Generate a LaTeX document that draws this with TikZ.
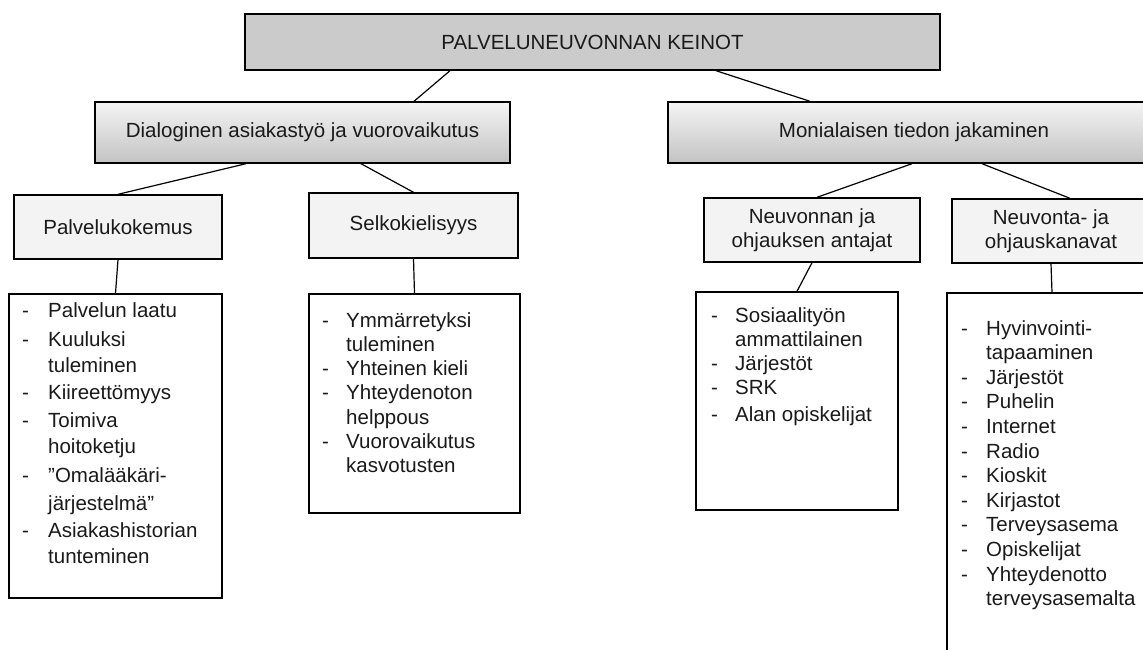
\documentclass[tikz,border=0pt]{standalone}
\usepackage{fontspec}
\setmainfont{Liberation Sans}
\usetikzlibrary{calc}
\definecolor{topfill}{HTML}{CBCBCB}
\definecolor{gtop}{HTML}{F4F4F4}
\definecolor{gbot}{HTML}{C3C3C3}
\definecolor{lfill}{HTML}{F3F3F3}
\definecolor{ink}{HTML}{1A1A1A}
\begin{document}
\begin{tikzpicture}[x=1pt,y=-1pt,
  box/.style={draw=black, line width=1.4pt, inner sep=0pt, font=\fontsize{20.5}{24}\selectfont, text=ink},
  topbox/.style={box, fill=topfill},
  midbox/.style={box, top color=gtop, bottom color=gbot},
  subbox/.style={box, fill=lfill, align=center},
  listbox/.style={draw=black, line width=1.4pt, fill=white, inner sep=0pt},
  conn/.style={draw=black, line width=1.2pt},
  itemtxt/.style={anchor=base west, inner sep=0pt, font=\fontsize{20.5}{24}\selectfont, text=ink},
]
\useasboundingbox (0,0) rectangle (1143,649);
\clip (0,0) rectangle (1143,649);
\fill[white] (0,0) rectangle (1143,649);

% boxes
\node[topbox, minimum width=695pt, minimum height=56pt] (top) at (592.5,42) {PALVELUNEUVONNAN KEINOT};
\node[midbox, minimum width=415pt, minimum height=61pt] (dial) at (302.5,132.5) {Dialoginen asiakastyö ja vuorovaikutus};
\node[midbox, minimum width=492pt, minimum height=61pt] (mon) at (914,132.5) {Monialaisen tiedon jakaminen};
\node[subbox, minimum width=208pt, minimum height=64pt] (palv) at (118,227) {Palvelukokemus};
\node[subbox, minimum width=209pt, minimum height=65pt] (selk) at (413.5,225.5) {Selkokielisyys};
\node[subbox, minimum width=216pt, minimum height=64pt] (neu1) at (812,230) {Neuvonnan ja\\ohjauksen antajat};
\node[subbox, minimum width=198pt, minimum height=64pt] (neu2) at (1051,231) {Neuvonta- ja\\ohjauskanavat};

\node[listbox, minimum width=213pt, minimum height=304pt] (la) at (115.5,446) {};
\node[listbox, minimum width=211pt, minimum height=219pt] (lb) at (414.5,403.5) {};
\node[listbox, minimum width=202pt, minimum height=218pt] (lc) at (797,401) {};
\node[listbox, minimum width=210pt, minimum height=387pt] (ld) at (1052,486.5) {};

% connectors
\draw[conn] ($(top.south)+(-142.5,0)$) -- ($(dial.north)+(111.5,0)$);
\draw[conn] ($(top.south)+(123.5,0)$) -- ($(mon.north)+(-104,0)$);
\draw[conn] ($(dial.south)+(-56.5,0)$) -- (palv.north);
\draw[conn] ($(dial.south)+(58.5,0)$) -- (selk.north);
\draw[conn] ($(mon.south)+(-2,0)$) -- ($(neu1.north)+(5,0)$);
\draw[conn] ($(mon.south)+(68,0)$) -- ($(neu2.north)+(19,0)$);
\draw[conn] (palv.south) -- (la.north);
\draw[conn] (selk.south) -- (lb.north);
\draw[conn] (neu1.south) -- (lc.north);
\draw[conn] (neu2.south) -- (ld.north);

% list A
\foreach \yy/\txt [count=\i] in {317/Palvelun laatu, 346/Kuuluksi, 399/Kiireettömyys, 427/Toimiva, 482/”Omalääkäri-, 537/Asiakashistorian}
  {\node[itemtxt] (ad\i) at (22,\yy) {-}; \node[itemtxt] (at\i) at (48,\yy) {\txt};}
\foreach \yy/\txt [count=\i] in {372/tuleminen, 453/hoitoketju, 510/järjestelmä”, 563/tunteminen}
  {\node[itemtxt] (ac\i) at (48,\yy) {\txt};}

% list B
\foreach \yy/\txt [count=\i] in {327/Ymmärretyksi, 375.6/Yhteinen kieli, 399.9/Yhteydenoton, 448.5/Vuorovaikutus}
  {\node[itemtxt] (bd\i) at (322,\yy) {-}; \node[itemtxt] (bt\i) at (346,\yy) {\txt};}
\foreach \yy/\txt [count=\i] in {351.3/tuleminen, 424.2/helppous, 472.8/kasvotusten}
  {\node[itemtxt] (bc\i) at (346,\yy) {\txt};}

% list C
\foreach \yy/\txt [count=\i] in {322/Sosiaalityön, 370/Järjestöt, 394/SRK, 421/Alan opiskelijat}
  {\node[itemtxt] (cd\i) at (711,\yy) {-}; \node[itemtxt] (ct\i) at (735,\yy) {\txt};}
\node[itemtxt] (cc1) at (735,346) {ammattilainen};

% list D
\foreach \yy/\txt [count=\i] in {335/Hyvinvointi-, 384.2/Järjestöt, 408.8/Puhelin, 433.4/Internet, 458/Radio, 482.6/Kioskit, 507.2/Kirjastot, 531.8/Terveysasema, 556.4/Opiskelijat, 581/Yhteydenotto}
  {\node[itemtxt] (dd\i) at (961,\yy) {-}; \node[itemtxt] (dt\i) at (986,\yy) {\txt};}
\foreach \yy/\txt [count=\i] in {359.6/tapaaminen, 605.6/terveysasemalta}
  {\node[itemtxt] (dc\i) at (986,\yy) {\txt};}
\end{tikzpicture}
\end{document}
